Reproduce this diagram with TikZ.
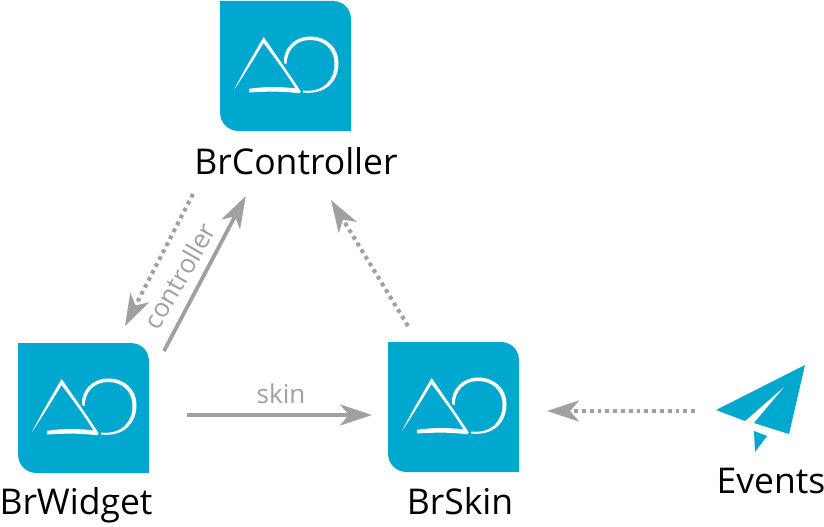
\documentclass[tikz,border=0pt]{standalone}
\usepackage{fontspec}
\setmainfont{Open Sans}
\usetikzlibrary{arrows.meta,calc}
\definecolor{brblue}{HTML}{00A8D0}
\definecolor{brgray}{HTML}{A0A0A0}
\tikzset{
  x=1pt,y=-1pt,
  anchorbox/.style={minimum width=131pt,minimum height=131pt,inner sep=0pt,outer sep=0pt},
  big/.style={font=\fontsize{35.5}{38}\selectfont,text=black,inner sep=0pt},
  small/.style={font=\fontsize{26}{29}\selectfont,text=brgray,inner sep=0pt},
  solidarrow/.style={draw=brgray,line width=3.8pt,-{Stealth[length=32pt,width=21pt,inset=9pt]}},
  dotarrow/.style={draw=brgray,line width=4pt,dash pattern=on 3.8pt off 4pt,-{Stealth[length=32pt,width=21pt,inset=9pt,sep=0pt]}},
  pics/logo/.style={code={
    \fill[brblue] (0,0) -- (112,0) .. controls (124,0) and (131,8) .. (131,19) -- (131,130) -- (19,130) .. controls (8,130) and (0,122) .. (0,111) -- cycle;
    \fill[white] (14,89) .. controls (22,73) and (33,54) .. (43.7,36) .. controls (56,54) and (70,74) .. (80.8,90.5) -- (79,92.3) .. controls (62,90) and (45,90.5) .. (29,91.5) -- (29,87.8) .. controls (45,85.5) and (62,85.5) .. (75.5,87.5) .. controls (66,72) and (54,56) .. (43.5,42) .. controls (34,58) and (24,74) .. (14,89) -- cycle;
    \fill[white] (83,89.5) .. controls (104,92) and (115,78) .. (114.5,62) .. controls (114,47) and (103,39) .. (90,39) .. controls (76,39) and (67,49) .. (66.5,63) -- (64,62) .. controls (63,47) and (75,35.5) .. (90,35.5) .. controls (107,35.5) and (118.5,47) .. (118.5,62) .. controls (118.5,81) and (105,94) .. (83,91.5) -- cycle;
  }}
}
\begin{document}
\begin{tikzpicture}
\useasboundingbox (0,0) rectangle (824,527);
\node[anchorbox] (ctrl) at (285.5,66) {};
\node[anchorbox] (widget) at (83.5,408) {};
\node[anchorbox] (skin) at (453.5,407) {};
\pic at (220,1) {logo};
\pic at (18,343) {logo};
\pic at (388,342) {logo};
\node[big] (ctrllabel) at (296,161) {BrController};
\node[big] (widgetlabel) at (76,505) {BrWidget};
\node[big] (skinlabel) at (460,501) {BrSkin};
\node[big] (eventslabel) at (771,481) {Events};
\coordinate (events) at (760,411);
\fill[brblue] (716,410) -- (805,365) -- (789,434) -- (754,423) -- (786,385) -- (745,421) -- cycle;
\fill[brblue] (754,431) -- (767,436) -- (755,452) -- cycle;
\coordinate (a1) at (193,194);
\coordinate (a2) at (125,326);
\coordinate (b1) at (164,351);
\coordinate (b2) at (245.7,196);
\coordinate (c1) at (408,326);
\coordinate (c2) at (331,200);
\coordinate (d1) at (187,415);
\coordinate (d2) at (372,415);
\coordinate (e1) at (695,411);
\coordinate (e2) at (547,411);
\draw[dotarrow] (a1) -- (a2);
\draw[solidarrow] (b1) -- (b2);
\draw[dotarrow] (c1) -- (c2);
\draw[solidarrow] (d1) -- (d2);
\draw[dotarrow] (e1) -- (e2);
\node[small,rotate=60] (controllerlabel) at (179.5,276) {controller};
\node[small] (skintext) at (281,394) {skin};
\end{tikzpicture}
\end{document}
